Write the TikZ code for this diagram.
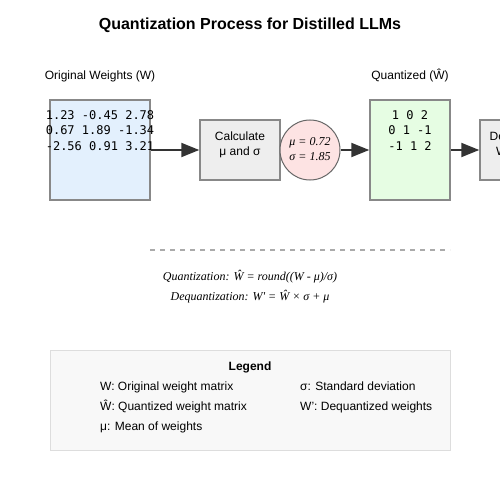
\documentclass[tikz,border=0pt]{standalone}
\usepackage{fontspec}
\setmainfont{Liberation Sans}
\newfontfamily\monofnt{DejaVu Sans Mono}
\newfontfamily\seriffnt{Liberation Serif}
\usetikzlibrary{arrows.meta}
\definecolor{boxstroke}{HTML}{888888}
\definecolor{bluefill}{HTML}{E3F0FD}
\definecolor{greenfill}{HTML}{E6FDE3}
\definecolor{grayfill}{HTML}{EEEEEE}
\definecolor{pinkfill}{HTML}{FDE3E3}
\definecolor{arrowcol}{HTML}{333333}
\definecolor{legfill}{HTML}{F8F8F8}
\definecolor{legstroke}{HTML}{DDDDDD}
\definecolor{dashcol}{HTML}{AAAAAA}
\tikzset{
  matbox/.style={draw=boxstroke, line width=1.5pt, minimum width=100pt, minimum height=100pt, inner sep=0pt},
  qbox/.style={draw=boxstroke, line width=1.5pt, minimum width=80pt, minimum height=100pt, inner sep=0pt},
  procbox/.style={draw=boxstroke, line width=1.5pt, fill=grayfill, minimum width=80pt, minimum height=60pt, inner sep=0pt},
  statcirc/.style={circle, draw=black!60, line width=1pt, fill=pinkfill, minimum size=60pt, inner sep=0pt},
  lbl/.style={anchor=base, font=\fontsize{12}{14}\selectfont, inner sep=0pt},
  mono/.style={anchor=base, font=\monofnt\fontsize{12}{14}\selectfont, inner sep=0pt},
  ital/.style={anchor=base, font=\seriffnt\itshape\fontsize{12}{14}\selectfont, inner sep=0pt},
  legitem/.style={anchor=base west, font=\fontsize{12}{14}\selectfont, inner sep=0pt},
  flow/.style={draw=arrowcol, line width=2pt, -{Triangle[length=18pt, width=14pt]}},
}
\begin{document}
\begin{tikzpicture}[x=1pt, y=-1pt]
\useasboundingbox (0,0) rectangle (500,500);
\clip (0,0) rectangle (500,500);
\fill[white] (0,0) rectangle (500,500);
% title
\node[anchor=base, inner sep=0pt, font=\bfseries\fontsize{16}{19}\selectfont] (title) at (250,30) {Quantization Process for Distilled LLMs};
% labels
\node[lbl] (origlbl) at (100,80) {Original Weights (W)};
\node[lbl] (quantlbl) at (410,80) {Quantized (Ŵ)};
% boxes
\node[matbox, fill=bluefill] (wbox) at (100,150) {};
\node[procbox] (calc) at (240,150) {};
\node[statcirc] (stats) at (310,150) {};
\node[qbox, fill=greenfill] (qbox) at (410,150) {};
\node[procbox] (deq) at (520,150) {};
% matrix texts
\node[mono] (w1) at (100,120) {1.23 -0.45 2.78};
\node[mono] (w2) at (100,135) {0.67 1.89 -1.34};
\node[mono] (w3) at (100,150) {-2.56 0.91 3.21};
\node[mono] (q1) at (410,120) {1 0 2};
\node[mono] (q2) at (410,135) {0 1 -1};
\node[mono] (q3) at (410,150) {-1 1 2};
% process texts
\node[lbl] (calc1) at (240,140) {Calculate};
\node[lbl] (calc2) at (240,155) {μ and σ};
\node[ital] (mu) at (310,145) {μ = 0.72};
\node[ital] (sigma) at (310,160) {σ = 1.85};
\node[lbl] (deq1) at (520,140) {Dequantize};
\node[lbl] (deq2) at (520,155) {W' (float)};
% arrows
\draw[flow] (wbox.east) -- (calc.west);
\draw[flow] (stats.east) -- (qbox.west);
\draw[flow] (qbox.east) -- (deq.west);
% dashed separator
\coordinate (dashL) at (150,250);
\coordinate (dashR) at (450,250);
\draw[dashcol, line width=1.5pt, dash pattern=on 5pt off 5pt] (dashL) -- (dashR);
% formulas
\node[ital] (f1) at (250,280) {Quantization: Ŵ = round((W - μ)/σ)};
\node[ital] (f2) at (250,300) {Dequantization: W' = Ŵ × σ + μ};
% legend
\node[draw=legstroke, fill=legfill, line width=1pt, minimum width=400pt, minimum height=100pt, inner sep=0pt] (legend) at (250,400) {};
\node[anchor=base, inner sep=0pt, font=\bfseries\fontsize{12}{14}\selectfont] (legtitle) at (250,370) {Legend};
\node[legitem] (l1) at (100,390) {W: Original weight matrix};
\node[legitem] (l2) at (100,410) {Ŵ: Quantized weight matrix};
\node[legitem] (l3) at (100,430) {μ: Mean of weights};
\node[legitem] (l4) at (300,390) {σ: Standard deviation};
\node[legitem] (l5) at (300,410) {W': Dequantized weights};
\end{tikzpicture}
\end{document}
